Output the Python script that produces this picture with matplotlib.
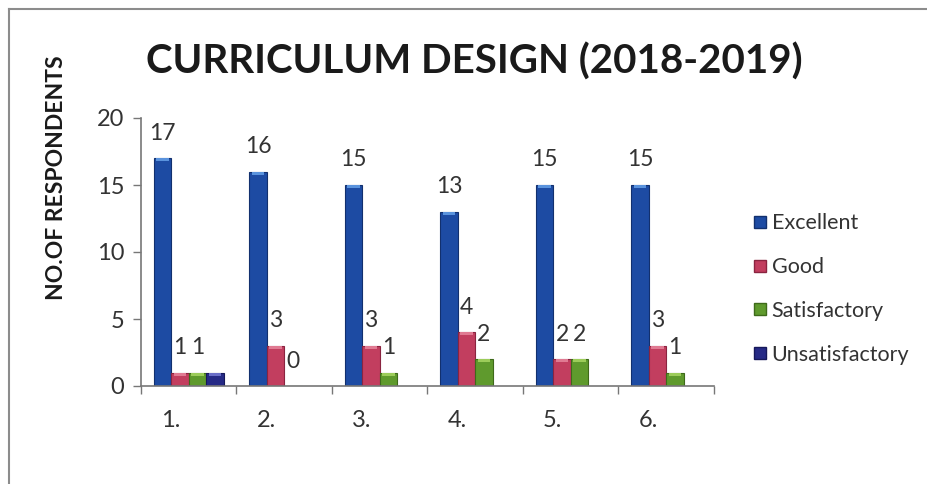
import matplotlib.pyplot as plt
import numpy as np
from matplotlib.lines import Line2D
from matplotlib.transforms import ScaledTranslation

plt.rcParams['font.family'] = ['Lato', 'DejaVu Sans']

categories = ['1.', '2.', '3.', '4.', '5.', '6.']
excellent = [17, 16, 15, 13, 15, 15]
good = [1, 3, 3, 4, 2, 3]
satisfactory = [1, 0, 1, 2, 2, 1]
unsatisfactory = [1, np.nan, np.nan, np.nan, np.nan, np.nan]
series_names = ['Excellent', 'Good', 'Satisfactory', 'Unsatisfactory']

colors = ['#1d4ba3', '#c23e5f', '#5f9a2d', '#262a86']
tops = ['#5a93dd', '#e07a92', '#9ccc5a', '#6a6ec8']
edges = ['#12306e', '#8a2440', '#3e6a1a', '#16185a']

fig = plt.figure(figsize=(9.28, 4.84), dpi=100)
ax = fig.add_axes([141 / 928, 1 - 386 / 484, 573 / 928, 268 / 484])

x = np.arange(len(categories))
w = 0.183
data = [excellent, good, satisfactory, unsatisfactory]
for i, vals in enumerate(data):
    xs = x + (i - 1.5) * w
    v = np.array(vals, dtype=float)
    ax.bar(xs, v, width=w, color=colors[i], edgecolor=edges[i], linewidth=0.8, zorder=2)
    # lighter cap to hint at the 3D look
    cap = np.where(v > 0, 0.22, np.nan)
    ax.bar(xs, cap, bottom=v - 0.22, width=w * 0.7, color=tops[i], linewidth=0, zorder=3)
    if i < 3:
        for xx, vv in zip(xs, v):
            if not np.isnan(vv):
                ax.annotate('%d' % vv, xy=(xx, vv), xytext=(0, 18), textcoords='offset points',
                            ha='center', va='center', fontsize=16.5, color='#333333')

ax.set_xlim(-0.5, len(categories) - 0.5)
ax.set_ylim(0, 20)
ax.set_yticks([0, 5, 10, 15, 20])
ax.tick_params(axis='y', length=6, width=1, color='#777777', labelsize=17, labelcolor='#333333', pad=6)
ax.set_xticks(x)
ax.set_xticklabels(categories, fontsize=17, color='#333333')
ax.set_xticks(np.arange(len(categories) + 1) - 0.5, minor=True)
ax.tick_params(axis='x', which='major', length=0, pad=17)
ax.tick_params(axis='x', which='minor', length=6, width=1, color='#777777')
shift = ScaledTranslation(-18 / 100, 0, fig.dpi_scale_trans)
for lab in ax.get_xticklabels():
    lab.set_transform(lab.get_transform() + shift)

for s in ['top', 'right']:
    ax.spines[s].set_visible(False)
for s in ['left', 'bottom']:
    ax.spines[s].set_color('#777777')
    ax.spines[s].set_linewidth(1.2)

fig.text(474 / 928, 1 - 62 / 484, 'CURRICULUM DESIGN (2018-2019)', ha='center', va='center',
         fontsize=29, fontweight='bold', color='#1a1a1a')
fig.text(57 / 928, 1 - 178 / 484, 'NO.OF RESPONDENTS', ha='center', va='center', rotation=90,
         fontsize=16.5, fontweight='bold', color='#1a1a1a')

handles = [Line2D([], [], marker='s', linestyle='', markersize=9, markerfacecolor=c,
                  markeredgecolor=e) for c, e in zip(colors, edges)]
fig.legend(handles, series_names, loc='center left', bbox_to_anchor=(733 / 928, 1 - 289 / 484),
           frameon=False, fontsize=15.5, labelspacing=1.1, handletextpad=0.2, handlelength=0.7,
           labelcolor='#333333')

# scanned page frame (top and left edges)
fig.add_artist(Line2D([9 / 928, 1], [1 - 9 / 484, 1 - 9 / 484], transform=fig.transFigure,
                      color='#8c8c8c', linewidth=1.5))
fig.add_artist(Line2D([9 / 928, 9 / 928], [0, 1 - 9 / 484], transform=fig.transFigure,
                      color='#8c8c8c', linewidth=1.5))

fig.savefig('out.png', dpi=100)
